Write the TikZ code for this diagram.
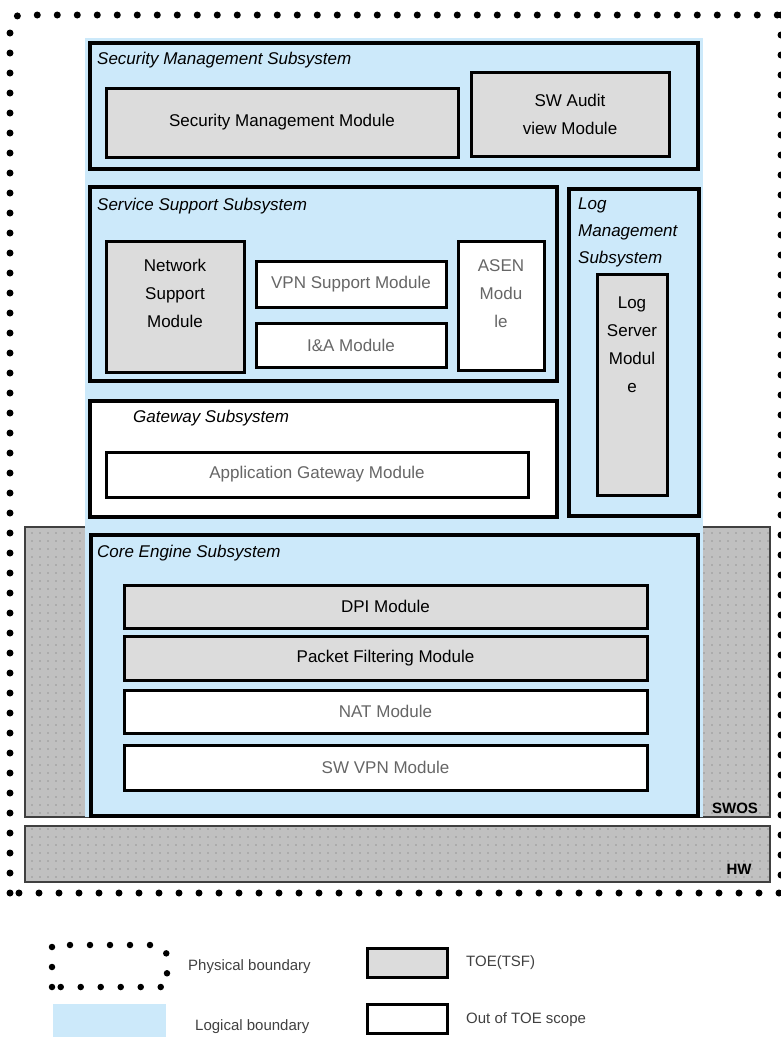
\documentclass[tikz,border=0pt]{standalone}
\usepackage{fontspec}
\setmainfont{Liberation Sans}
\usetikzlibrary{patterns.meta}
\definecolor{logblue}{RGB}{204,233,250}
\definecolor{tsfgray}{RGB}{220,220,220}
\definecolor{osgray}{RGB}{192,192,192}

\begin{document}
\begin{tikzpicture}[
  x=1pt, y=-1pt,
  box/.style={
    draw, rectangle,
    inner sep=0pt,
    font=\fontsize{17}{28}\selectfont,
    align=center
  },
  sub/.style={box, line width=4pt},                     % subsystem
  tsf/.style={box, fill=tsfgray, line width=3pt},       % TOE(TSF) module
  outmod/.style={box, fill=white, line width=3pt, text=black!60}, % out of scope
  lbl/.style={anchor=west, inner sep=0pt, font=\fontsize{17}{27}\selectfont\itshape},
  txt/.style={anchor=north, inner sep=0pt, align=center, font=\fontsize{17}{28}\selectfont},
  os/.style={
    draw=black!75, line width=1.5pt, fill=osgray, inner sep=0pt,
    postaction={pattern={Dots[distance=8pt,radius=0.7pt]}, pattern color=black!60}
  },
  oslbl/.style={inner sep=0pt, font=\fontsize{15}{15}\selectfont\bfseries},
  logic/.style={fill=logblue, inner sep=0pt},
  phys/.style={draw, line width=7pt, line cap=round, dash pattern=on 0pt off 20pt},
  keytxt/.style={anchor=west, inner sep=0pt, text=black!75, font=\fontsize{15}{18}\selectfont}
]
\useasboundingbox (0,0) rectangle (780,1037);

% --- platform layers ---
\node[os, minimum width=745, minimum height=290] (swos) at (397.5,672) {};
\node[os, minimum width=745, minimum height=56] (hw) at (397.5,854) {};
\node[oslbl] (swosl) at (735,808) {SWOS};
\node[oslbl] (hwl) at (739,869) {HW};

% --- logical boundary ---
\node[logic, minimum width=618, minimum height=779] (logical) at (394,427.5) {};

% --- physical boundary ---
\draw[phys, rounded corners=12pt] (10,893) -- (10,15) -- (781,15);
\draw[phys] (781,15) -- (781,893) -- (10,893);

% --- security management ---
\node[sub, minimum width=608, minimum height=126] (secsub) at (394,106) {};
\node[lbl] (secsubl) at (97,60) {Security Management Subsystem};
\node[tsf, minimum width=352, minimum height=69] (smm) at (282,122.5) {Security Management Module};
\node[tsf, minimum width=198, minimum height=84] (swaudit) at (570,114) {SW Audit\\view Module};

% --- service support ---
\node[sub, minimum width=467, minimum height=194] (svcsub) at (323.5,284) {};
\node[lbl] (svcsubl) at (97,206) {Service Support Subsystem};
\node[tsf, minimum width=138, minimum height=131] (nsm) at (175,306.5) {};
\node[txt] (nsmt) at (175,259) {Network\\Support\\Module};
\node[outmod, minimum width=190, minimum height=46] (vpnsup) at (351,284) {VPN Support Module};
\node[outmod, minimum width=190, minimum height=44] (ia) at (351,345) {I\&A Module};
\node[outmod, minimum width=86, minimum height=129] (asen) at (501,305.5) {};
\node[txt, text=black!60] (asent) at (501,259) {ASEN\\Modu\\le};

% --- log management ---
\node[sub, minimum width=130, minimum height=327] (logsub) at (634,352) {};
\node[lbl, anchor=north west, align=left] (logsubl) at (578,198) {Log\\Management\\Subsystem};
\node[tsf, minimum width=70, minimum height=221] (logsrv) at (632,384.5) {};
\node[txt] (logsrvt) at (632,297) {Log\\Server\\Modul\\e};

% --- gateway ---
\node[sub, fill=white, minimum width=467, minimum height=116] (gwsub) at (323.5,459) {};
\node[lbl] (gwsubl) at (133,418) {Gateway Subsystem};
\node[outmod, minimum width=422, minimum height=45] (appgw) at (317,474.5) {Application Gateway Module};

% --- core engines ---
\node[sub, minimum width=607, minimum height=281] (coresub) at (394.5,675.5) {};
\node[lbl] (coresubl) at (97,553) {Core Engine Subsystem};
\node[tsf, minimum width=523, minimum height=43] (dpi) at (385.5,606.5) {DPI Module};
\node[tsf, minimum width=523, minimum height=44] (pf) at (385.5,658) {Packet Filtering Module};
\node[outmod, minimum width=523, minimum height=43] (nat) at (385.5,711.5) {NAT Module};
\node[outmod, minimum width=523, minimum height=45] (swvpn) at (385.5,767.5) {SW VPN Module};

% --- legend ---
\draw[phys, line width=6.5pt] (52,987) -- (52,945) [rounded corners=12pt] -- (167,945) [sharp corners] -- (167,987) -- cycle;
\node[keytxt] (physk) at (188,967) {Physical boundary};
\node[tsf, minimum width=80, minimum height=29] (tsfk) at (407,962.5) {};
\node[keytxt] (tsfkl) at (466,963) {TOE(TSF)};
\node[logic, minimum width=113, minimum height=36] (logick) at (109.5,1022) {};
\node[keytxt] (logickl) at (195,1027) {Logical boundary};
\node[outmod, minimum width=80, minimum height=29] (outk) at (407,1018.5) {};
\node[keytxt] (outkl) at (466,1020) {Out of TOE scope};

\end{tikzpicture}
\end{document}
